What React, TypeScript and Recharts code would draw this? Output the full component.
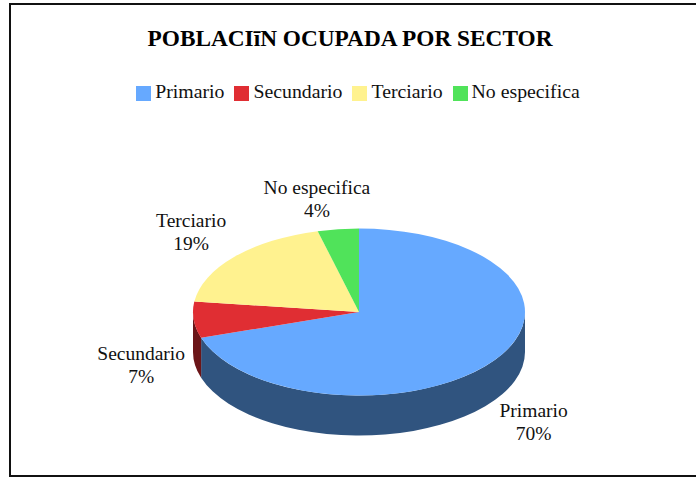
import React from "react";
import { PieChart, Pie, Legend } from "recharts";

const titleText = "POBLACIīN OCUPADA POR SECTOR";
const categories = ["Primario", "Secundario", "Terciario", "No especifica"];
const shares = [70, 7, 19, 4];
const topColors = ["#66a9ff", "#e02e33", "#fff28f", "#50e35a"];
const wallColors = ["#30547f", "#6b1518", "#8a8250", "#2a7a30"];

const topData = categories.map((name, i) => ({ name, value: shares[i], fill: topColors[i] }));
const wallData = categories.map((name, i) => ({ name, value: shares[i], fill: wallColors[i] }));

const SQUASH = 0.503;
const DEPTH = 40;
const FONT = "'Liberation Serif', serif";
const labelNudge: Record<string, [number, number]> = {
  Primario: [0, 6],
  Secundario: [-3, 3],
  Terciario: [-6, -8],
  "No especifica": [-15, -5],
};

const rad = (d: number) => (d * Math.PI) / 180;
const px = (cx: number, r: number, a: number) => cx + r * Math.cos(rad(a));
const py = (cy: number, r: number, a: number) => cy - r * SQUASH * Math.sin(rad(a));

function TopSector(p: any) {
  const { cx, cy, outerRadius: r, startAngle: s, endAngle: e, fill } = p;
  const large = Math.abs(s - e) > 180 ? 1 : 0;
  const d = `M${cx},${cy} L${px(cx, r, s)},${py(cy, r, s)} A${r},${r * SQUASH} 0 ${large} 1 ${px(cx, r, e)},${py(cy, r, e)} Z`;
  return <path d={d} fill={fill} stroke="none" />;
}

function WallSector(p: any) {
  const { cx, cy, outerRadius: r, startAngle: s, endAngle: e, fill } = p;
  const hi = Math.min(s, 0);
  const lo = Math.max(e, -180);
  if (hi <= lo) return <g />;
  const ry = r * SQUASH;
  const d = `M${px(cx, r, hi)},${py(cy, r, hi)} A${r},${ry} 0 0 1 ${px(cx, r, lo)},${py(cy, r, lo)} L${px(cx, r, lo)},${py(cy, r, lo) + DEPTH} A${r},${ry} 0 0 0 ${px(cx, r, hi)},${py(cy, r, hi) + DEPTH} Z`;
  return <path d={d} fill={fill} stroke="none" />;
}

function renderLabel(p: any) {
  const { cx, cy, outerRadius: r, midAngle, name, value } = p;
  const [nx, ny] = labelNudge[name] ?? [0, 0];
  const sinA = Math.sin(rad(midAngle));
  const x = cx + 1.3 * r * Math.cos(rad(midAngle)) + nx;
  const y = cy - 1.3 * r * SQUASH * sinA + (sinA < 0 ? DEPTH : 0) + ny;
  return (
    <text x={x} y={y} textAnchor="middle" fontFamily={FONT} fontSize={19.5} fill="#111">
      <tspan x={x} dy={-5}>{name}</tspan>
      <tspan x={x} dy={23}>{`${value}%`}</tspan>
    </text>
  );
}

export default function App() {
  return (
    <div style={{ position: "absolute", left: 0, top: 0, width: 696, height: 477, overflow: "hidden", background: "#fff" }}>
      <div style={{ position: "absolute", left: 9, top: 3, width: 687, height: 474, boxSizing: "border-box", borderLeft: "2px solid #111", borderTop: "2px solid #111", borderBottom: "2px solid #111" }} />
      <PieChart width={696} height={477} style={{ position: "absolute", left: 0, top: 0 }} margin={{ top: 0, right: 0, bottom: 0, left: 0 }}>
        <text x={350} y={46} textAnchor="middle" fontFamily={FONT} fontWeight="bold" fontSize={23.3} fill="#000">{titleText}</text>
        <Legend
          verticalAlign="top"
          align="center"
          iconType="square"
          iconSize={15}
          itemSorter={null}
          wrapperStyle={{ top: 80, left: 15, width: 696, fontFamily: FONT, fontSize: 19.8 }}
          formatter={(v: string) => <span style={{ color: "#111" }}>{v}</span>}
        />
        <Pie data={wallData} dataKey="value" nameKey="name" cx={359} cy={289} outerRadius={166} startAngle={90} endAngle={-270} shape={WallSector} legendType="none" isAnimationActive={false} label={false} labelLine={false} />
        <Pie data={topData} dataKey="value" nameKey="name" cx={359} cy={289} outerRadius={166} startAngle={90} endAngle={-270} shape={TopSector} legendType="square" isAnimationActive={false} label={renderLabel} labelLine={false} />
      </PieChart>
    </div>
  );
}
